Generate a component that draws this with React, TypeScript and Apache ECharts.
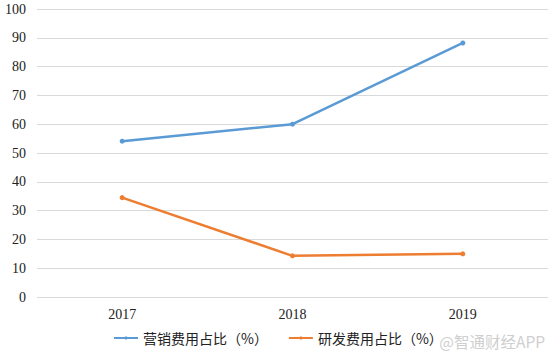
import React, { useEffect, useRef } from "react";
import * as echarts from "echarts";

const categories = ["2017", "2018", "2019"];
const marketing = [54.1, 60.0, 88.2];
const rnd = [34.5, 14.3, 15.0];
const seriesNames = ["营销费用占比（%）", "研发费用占比（%）"];

const serif = "'Liberation Serif', 'Times New Roman', serif";

export default function App() {
  const ref = useRef<HTMLDivElement>(null);
  useEffect(() => {
    if (!ref.current) return;
    const chart = echarts.init(ref.current, null, { renderer: "svg" });
    chart.setOption({
      animation: false,
      backgroundColor: "#ffffff",
      grid: { left: 37, right: 6, top: 9, bottom: 56 },
      xAxis: {
        type: "category",
        data: categories,
        boundaryGap: true,
        axisLine: { show: false },
        axisTick: { show: false },
        axisLabel: { color: "#222", fontFamily: serif, fontSize: 14, margin: 10 },
      },
      yAxis: {
        type: "value",
        min: 0,
        max: 100,
        interval: 10,
        axisLine: { show: false },
        axisTick: { show: false },
        splitLine: { lineStyle: { color: "#d9d9d9", width: 1 } },
        axisLabel: { color: "#222", fontFamily: serif, fontSize: 14, margin: 11 },
      },
      legend: {
        bottom: 3,
        left: 108,
        itemGap: 20,
        itemWidth: 24,
        itemHeight: 4,
        data: seriesNames,
        textStyle: { color: "#222", fontFamily: "Noto Sans CJK SC", fontSize: 14 },
      },
      graphic: [
        {
          type: "text",
          right: 9,
          bottom: 4,
          style: {
            text: "@智通财经APP",
            fill: "#cfcfcf",
            font: "15.5px 'Noto Sans CJK SC'",
          },
        },
      ],
      series: [
        {
          name: seriesNames[0],
          type: "line",
          data: marketing,
          symbol: "circle",
          symbolSize: 5,
          itemStyle: { color: "#5b9bd5" },
          lineStyle: { color: "#5b9bd5", width: 2.5 },
        },
        {
          name: seriesNames[1],
          type: "line",
          data: rnd,
          symbol: "circle",
          symbolSize: 5,
          itemStyle: { color: "#ed7d31" },
          lineStyle: { color: "#ed7d31", width: 2.5 },
        },
      ],
    });
    return () => chart.dispose();
  }, []);
  return <div ref={ref} style={{ width: 554, height: 353, position: "absolute", left: 0, top: 0 }} />;
}
